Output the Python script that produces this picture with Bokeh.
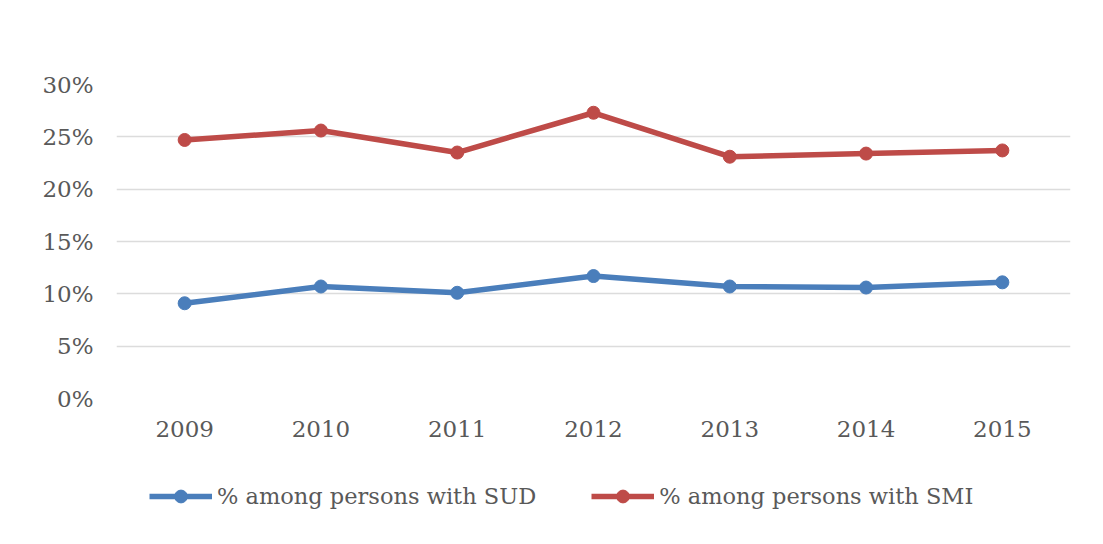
from bokeh.plotting import figure
from bokeh.layouts import column
from bokeh.models import FactorRange, Range1d, Legend, LegendItem, PrintfTickFormatter, FixedTicker
from bokeh.embed import file_html
from bokeh.resources import INLINE

years = ["2009", "2010", "2011", "2012", "2013", "2014", "2015"]
sud = [9.1, 10.7, 10.1, 11.7, 10.7, 10.6, 11.1]
smi = [24.7, 25.6, 23.5, 27.3, 23.1, 23.4, 23.7]
y_ticks = [0, 5, 10, 15, 20, 25, 30]
label_sud = "% among persons with SUD"
label_smi = "% among persons with SMI"

BLUE = "#4a7ebb"
RED = "#be4b48"
TEXT = "#595959"
FONT = "DejaVu Serif"
LW = 5.5
MS = 13

p = figure(width=1087, height=460, output_backend="svg", toolbar_location=None,
           x_range=FactorRange(*years, range_padding=0), y_range=Range1d(0, 30),
           min_border_left=116, min_border_right=17, min_border_top=84, min_border_bottom=62)
p.outline_line_color = None
p.background_fill_color = "white"
p.border_fill_color = "white"

p.line(years, sud, line_color=BLUE, line_width=LW)
p.scatter(years, sud, size=MS, fill_color=BLUE, line_color=BLUE)
p.line(years, smi, line_color=RED, line_width=LW)
p.scatter(years, smi, size=MS, fill_color=RED, line_color=RED)

p.xgrid.grid_line_color = None
p.ygrid.grid_line_color = "#dcdcdc"
p.ygrid.grid_line_width = 1.3
p.ygrid.ticker = FixedTicker(ticks=y_ticks)

for ax in (p.xaxis[0], p.yaxis[0]):
    ax.axis_line_color = None
    ax.major_tick_line_color = None
    ax.minor_tick_line_color = None
    ax.major_tick_out = 0
    ax.major_tick_in = 0
    ax.minor_tick_out = 0
    ax.major_label_text_font = FONT
    ax.major_label_text_font_size = "23px"
    ax.major_label_text_color = TEXT

p.yaxis[0].ticker = FixedTicker(ticks=y_ticks)
p.yaxis[0].formatter = PrintfTickFormatter(format="%d%%")
p.yaxis[0].major_label_standoff = 23
p.xaxis[0].major_label_standoff = 22

# legend strip below the chart (series drawn outside its visible y range, so only the legend shows)
pl = figure(width=1087, height=68, output_backend="svg", toolbar_location=None,
            x_range=p.x_range, y_range=Range1d(-20, -10),
            x_axis_location=None, y_axis_location=None,
            min_border=0, min_border_left=116, min_border_right=17, min_border_top=0, min_border_bottom=0)
pl.grid.visible = False
pl.outline_line_color = None
pl.border_fill_color = "white"
pl.background_fill_color = "white"
l1 = pl.line(years, sud, line_color=BLUE, line_width=LW)
s1 = pl.scatter(years, sud, size=MS, fill_color=BLUE, line_color=BLUE)
l2 = pl.line(years, smi, line_color=RED, line_width=LW)
s2 = pl.scatter(years, smi, size=MS, fill_color=RED, line_color=RED)

legend = Legend(items=[LegendItem(label=label_sud, renderers=[l1, s1]),
                       LegendItem(label=label_smi, renderers=[l2, s2])],
                orientation="horizontal", location=(33, 16),
                label_text_font=FONT, label_text_font_size="22.5px", label_text_color=TEXT,
                glyph_width=63, glyph_height=32, label_standoff=5, spacing=55,
                border_line_color=None, background_fill_alpha=0, padding=10)
pl.add_layout(legend, "center")

layout = column(p, pl, spacing=0)
open("out.html", "w").write(file_html(layout, INLINE))
